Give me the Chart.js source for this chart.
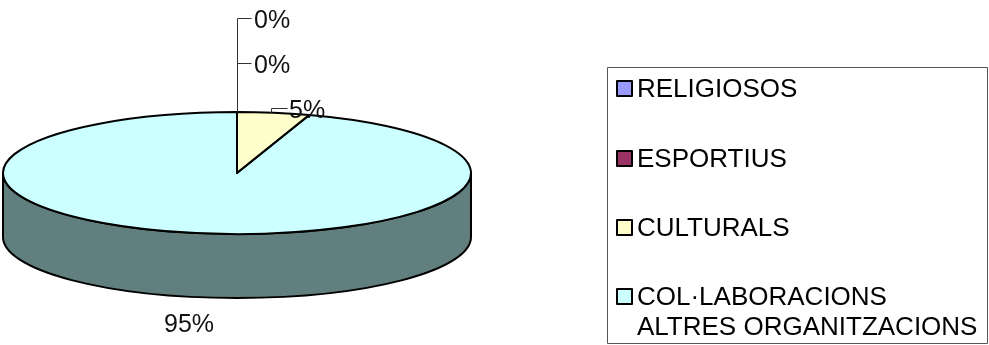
<!DOCTYPE html>
<html>
<head>
<meta charset="utf-8">
<title>Pie</title>
<script src="https://cdn.jsdelivr.net/npm/chart.js@4"></script>
<style>
html, body { margin: 0; padding: 0; background: #fff; overflow: hidden; }
canvas { display: block; }
</style>
</head>
<body>
<canvas id="pieChart" width="989" height="345"></canvas>
<script>
const categories = ['RELIGIOSOS', 'ESPORTIUS', 'CULTURALS', ['COL·LABORACIONS', 'ALTRES ORGANITZACIONS']];
const seriesValues = [0, 0, 5, 95];
const sliceColors = ['#9999FF', '#993366', '#FFFFCC', '#CCFFFF'];
const wallColors = ['#4D4D80', '#4D1A33', '#808066', '#617F7E'];

const LABEL_FONT = '25px "Liberation Sans", Arial, sans-serif';
const LEGEND_FONT = '26px "Liberation Sans", Arial, sans-serif';
const DEPTH = 64;

// text left, baseline, then the leader line points
const labelPlaces = [
    { x: 254, y: 28, leader: [[237, 112], [237, 18], [251, 18]] },
    { x: 254, y: 73, leader: [[237, 63], [251, 63]] },
    { x: 289, y: 118, leader: [[271, 113], [271, 108], [287, 108]] },
    { x: 164, y: 332, leader: [] }
];
const legendRows = [97, 167, 236, 305];

function drawWalls(chart, ctx) {
    const area = chart.chartArea;
    const rx = area.width / 2;
    chart.getDatasetMeta(0).data.forEach((arc, i) => {
        [0, Math.PI * 2].forEach(shift => {
            const from = Math.max(arc.startAngle, shift);
            const to = Math.min(arc.endAngle, shift + Math.PI);
            if (to <= from) return;
            ctx.beginPath();
            ctx.ellipse(arc.x, arc.y, rx, arc.outerRadius, 0, from, to);
            ctx.ellipse(arc.x, arc.y + DEPTH, rx, arc.outerRadius, 0, to, from, true);
            ctx.closePath();
            ctx.fillStyle = wallColors[i];
            ctx.fill();
            ctx.lineWidth = 2;
            ctx.strokeStyle = '#000';
            ctx.stroke();
        });
    });
}

function drawOutlines(chart, ctx) {
    const rx = chart.chartArea.width / 2;
    ctx.lineWidth = 2;
    ctx.strokeStyle = '#000';
    ctx.lineJoin = 'round';
    chart.getDatasetMeta(0).data.forEach(arc => {
        ctx.beginPath();
        ctx.moveTo(arc.x, arc.y);
        ctx.ellipse(arc.x, arc.y, rx, arc.outerRadius, 0, arc.startAngle, arc.endAngle);
        ctx.closePath();
        ctx.stroke();
    });
}

function drawLabels(chart, ctx) {
    const total = seriesValues.reduce((a, b) => a + b, 0);
    ctx.font = LABEL_FONT;
    ctx.textBaseline = 'alphabetic';
    ctx.textAlign = 'left';
    seriesValues.forEach((v, i) => {
        const place = labelPlaces[i];
        if (place.leader.length) {
            ctx.beginPath();
            place.leader.forEach((p, k) => k ? ctx.lineTo(p[0] + 0.5, p[1] + 0.5) : ctx.moveTo(p[0] + 0.5, p[1] + 0.5));
            ctx.lineWidth = 1;
            ctx.strokeStyle = '#333';
            ctx.stroke();
        }
        ctx.fillStyle = '#111';
        ctx.fillText(Math.round(v / total * 100) + '%', place.x, place.y);
    });
}

function drawLegend(ctx) {
    ctx.lineWidth = 1;
    ctx.strokeStyle = '#555';
    ctx.strokeRect(607.5, 67.5, 380, 276);
    ctx.font = LEGEND_FONT;
    categories.forEach((cat, i) => {
        const lines = Array.isArray(cat) ? cat : [cat];
        ctx.fillStyle = sliceColors[i];
        ctx.fillRect(617, legendRows[i] - 16, 15, 15);
        ctx.lineWidth = 2;
        ctx.strokeStyle = '#000';
        ctx.strokeRect(617, legendRows[i] - 16, 15, 15);
        ctx.fillStyle = '#000';
        lines.forEach((line, k) => ctx.fillText(line, 637, legendRows[i] + k * 30));
    });
}

// flatten the round pie into an ellipse and give it a side wall
const pie3d = {
    id: 'pie3d',
    beforeDatasetsDraw(chart) {
        const ctx = chart.ctx;
        const area = chart.chartArea;
        const arc = chart.getDatasetMeta(0).data[0];
        drawWalls(chart, ctx);
        ctx.save();
        ctx.translate(arc.x, arc.y);
        ctx.scale(area.width / 2 / arc.outerRadius, 1);
        ctx.translate(-arc.x, -arc.y);
    },
    afterDatasetsDraw(chart) {
        const ctx = chart.ctx;
        ctx.restore();
        drawOutlines(chart, ctx);
        drawLabels(chart, ctx);
        drawLegend(ctx);
    }
};

new Chart(document.getElementById('pieChart').getContext('2d'), {
    type: 'pie',
    data: {
        labels: categories,
        datasets: [{
            data: seriesValues,
            backgroundColor: sliceColors,
            borderWidth: 0,
            clip: false
        }]
    },
    options: {
        responsive: false,
        animation: false,
        devicePixelRatio: 1,
        layout: { padding: { left: 3, right: 518, top: 112, bottom: 111 } },
        plugins: {
            legend: { display: false },
            tooltip: { enabled: false }
        }
    },
    plugins: [pie3d]
});
</script>
</body>
</html>
